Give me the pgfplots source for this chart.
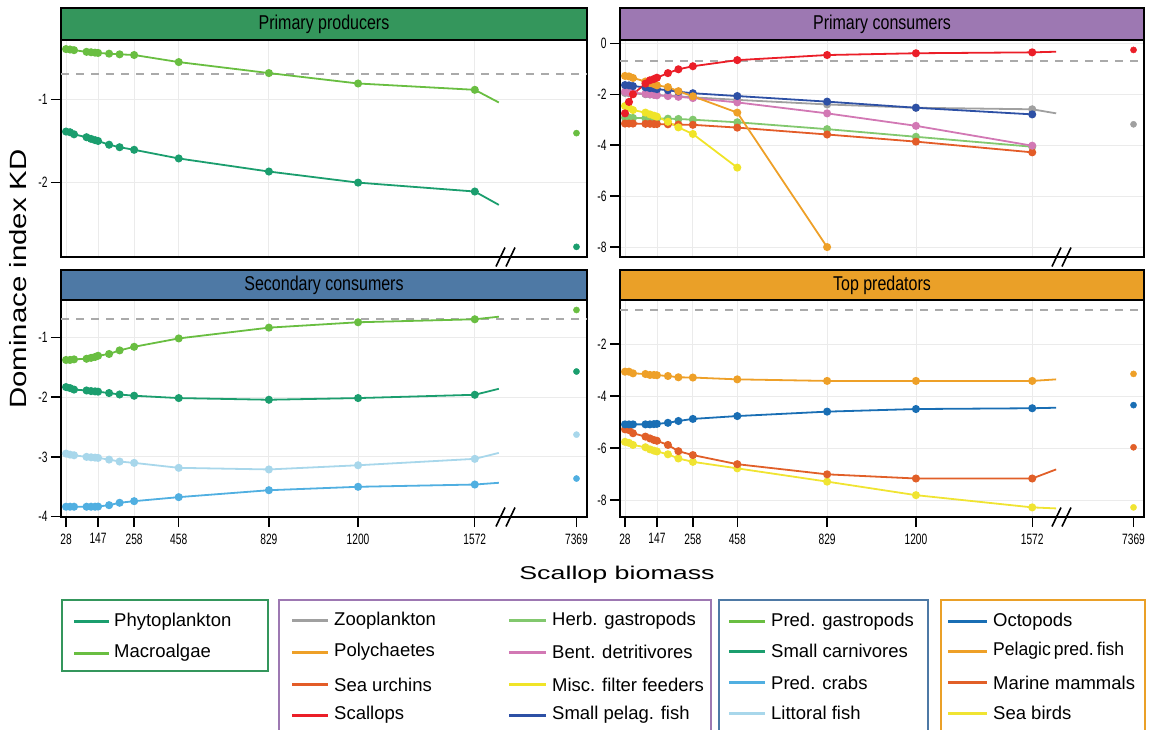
\documentclass[border=0pt]{standalone}
\usepackage{pgfplots}
\pgfplotsset{compat=1.18}
\usepackage{fontspec}
\setmainfont{Liberation Sans}
\newfontfamily\narrow[FakeStretch=0.68]{Liberation Sans}
\newfontfamily\stripf[FakeStretch=0.8]{Liberation Sans}
\newfontfamily\ylabf[FakeStretch=1.25]{Liberation Sans}
\newfontfamily\xlabf[FakeStretch=1.45]{Liberation Sans}
\newfontfamily\tightf[FakeStretch=0.95]{Liberation Sans}

\definecolor{stripPP}{RGB}{52,150,92}
\definecolor{stripPC}{RGB}{157,120,178}
\definecolor{stripSC}{RGB}{78,121,165}
\definecolor{stripTP}{RGB}{234,160,40}
\definecolor{cPhyto}{RGB}{27,158,110}
\definecolor{cMacro}{RGB}{105,190,65}
\definecolor{cZoo}{RGB}{160,160,160}
\definecolor{cPoly}{RGB}{238,160,40}
\definecolor{cUrch}{RGB}{227,92,40}
\definecolor{cScal}{RGB}{235,30,40}
\definecolor{cHerb}{RGB}{130,200,110}
\definecolor{cBent}{RGB}{210,120,180}
\definecolor{cMisc}{RGB}{240,228,40}
\definecolor{cSpel}{RGB}{45,80,165}
\definecolor{cCrab}{RGB}{80,175,225}
\definecolor{cLitt}{RGB}{168,215,235}
\definecolor{cOcto}{RGB}{25,110,180}
\definecolor{cPelf}{RGB}{238,160,40}
\definecolor{cMamm}{RGB}{225,95,40}
\definecolor{cBird}{RGB}{240,228,50}

\pgfplotsset{
  panel/.style={scale only axis, height=217pt, xmin=-5, xmax=520,
    axis line style={line width=1.8pt, black},
    grid=major, major grid style={gray!16, line width=0.8pt},
    tick align=outside, major tick length=10pt,
    tick style={line width=1.4pt, black},
    xtick={0,32,68,112.5,202.5,291.5,408},
    xtick pos=left, ytick pos=left,
    tick label style={font=\narrow\fontsize{15}{16}\selectfont},
    xticklabel style={yshift=-3pt},
    /pgf/number format/assume math mode=true,
    clip=false},
  toppanel/.style={xticklabels={}, xtick style={draw=none}},
  botpanel/.style={xticklabels={28,147,258,458,829,1200,1572},
    extra x ticks={509.5}, extra x tick labels={7369},
    extra x tick style={grid=none}},
  ser/.style={line width=1.8pt, mark=*, mark size=3.1pt, mark options={solid}},
  endl/.style={mark indices={1,2,3,4,5,6,7,8,9,10,11,12,13,14}},
  iso/.style={only marks, mark=*, mark size=3.1pt},
  refl/.style={color={rgb,255:red,170;green,170;blue,170}, line width=1.8pt, dash pattern=on 8pt off 7pt}
}

\begin{document}
\begin{tikzpicture}
\useasboundingbox (0,0) rectangle (1151pt,-729pt);

% ---------- strips ----------
\draw[fill=stripPP, line width=1.6pt] (61pt,-8pt) rectangle (587pt,-40pt);
\node at (324pt,-24pt) {\stripf\fontsize{20}{22}\selectfont Primary producers};
\draw[fill=stripPC, line width=1.6pt] (620pt,-8pt) rectangle (1144pt,-40pt);
\node at (882pt,-24pt) {\stripf\fontsize{20}{22}\selectfont Primary consumers};
\draw[fill=stripSC, line width=1.6pt] (61pt,-270pt) rectangle (587pt,-300pt);
\node at (324pt,-285pt) {\stripf\fontsize{20}{22}\selectfont Secondary consumers};
\draw[fill=stripTP, line width=1.6pt] (620pt,-270pt) rectangle (1144pt,-300pt);
\node at (882pt,-285pt) {\stripf\fontsize{20}{22}\selectfont Top predators};

% ---------- Primary producers ----------
\begin{axis}[panel, toppanel, width=526pt, at={(61pt,-40pt)}, anchor=north west,
  ymin=-2.893, ymax=-0.288, ytick={-1,-2}]
\addplot[refl] coordinates {(-5,-0.693) (520,-0.693)};
\addplot[ser, endl, color=cMacro] coordinates {(0,-0.397)(4,-0.402)(8,-0.41)(20.5,-0.43)(25,-0.435)(29,-0.44)(32,-0.443)(43,-0.452)(53.5,-0.46)(68,-0.468)(112.5,-0.553)(202.5,-0.685)(291.5,-0.81)(408,-0.886)(432,-1.038)};
\addplot[ser, endl, color=cPhyto] coordinates {(0,-1.387)(4,-1.395)(8,-1.42)(20.5,-1.455)(25,-1.475)(29,-1.49)(32,-1.5)(43,-1.545)(53.5,-1.575)(68,-1.606)(112.5,-1.71)(202.5,-1.867)(291.5,-2.0)(408,-2.107)(432,-2.267)};
\addplot[iso, color=cMacro] coordinates {(509.5,-1.406)};
\addplot[iso, color=cPhyto] coordinates {(509.5,-2.771)};
\end{axis}

% ---------- Primary consumers ----------
\begin{axis}[panel, toppanel, width=524pt, at={(620pt,-40pt)}, anchor=north west,
  ymin=-8.39, ymax=0.13, ytick={0,-2,-4,-6,-8}]
\addplot[refl] coordinates {(-5,-0.693) (520,-0.693)};
\addplot[ser, endl, color=cZoo] coordinates {(0,-1.95)(4,-1.96)(8,-1.97)(20.5,-2.0)(25,-2.01)(29,-2.02)(32,-2.03)(43,-2.06)(53.5,-2.08)(68,-2.12)(112.5,-2.22)(202.5,-2.4)(291.5,-2.53)(408,-2.59)(432,-2.75)};
\addplot[ser, color=cHerb] coordinates {(0,-2.92)(4,-2.92)(8,-2.93)(20.5,-2.94)(25,-2.95)(29,-2.95)(32,-2.95)(43,-2.96)(53.5,-2.97)(68,-3.0)(112.5,-3.1)(202.5,-3.37)(291.5,-3.67)(408,-4.06)};
\addplot[ser, color=cUrch] coordinates {(0,-3.15)(4,-3.15)(8,-3.15)(20.5,-3.16)(25,-3.16)(29,-3.17)(32,-3.17)(43,-3.18)(53.5,-3.19)(68,-3.2)(112.5,-3.31)(202.5,-3.58)(291.5,-3.86)(408,-4.28)};
\addplot[ser, color=cMisc] coordinates {(0,-2.46)(4,-2.53)(8,-2.62)(20.5,-2.72)(25,-2.79)(29,-2.84)(32,-2.88)(43,-3.08)(53.5,-3.3)(68,-3.56)(112.5,-4.88)};
\addplot[ser, color=cBent] coordinates {(0,-1.9)(4,-1.92)(8,-1.94)(20.5,-1.98)(25,-2.0)(29,-2.02)(32,-2.04)(43,-2.07)(53.5,-2.1)(68,-2.15)(112.5,-2.32)(202.5,-2.75)(291.5,-3.24)(408,-4.02)};
\addplot[ser, color=cSpel] coordinates {(0,-1.64)(4,-1.65)(8,-1.68)(20.5,-1.73)(25,-1.76)(29,-1.77)(32,-1.8)(43,-1.84)(53.5,-1.9)(68,-1.96)(112.5,-2.07)(202.5,-2.29)(291.5,-2.53)(408,-2.79)};
\addplot[ser, color=cPoly] coordinates {(0,-1.28)(4,-1.3)(8,-1.36)(20.5,-1.5)(25,-1.56)(29,-1.6)(32,-1.65)(43,-1.72)(53.5,-1.88)(68,-2.08)(112.5,-2.72)(202.5,-8.0)};
\addplot[ser, endl, color=cScal] coordinates {(0,-2.75)(4,-2.3)(8,-2.0)(20.5,-1.58)(25,-1.45)(29,-1.4)(32,-1.35)(43,-1.17)(53.5,-1.02)(68,-0.9)(112.5,-0.66)(202.5,-0.46)(291.5,-0.39)(408,-0.355)(432,-0.33)};
\addplot[iso, color=cScal] coordinates {(509.5,-0.26)};
\addplot[iso, color=cZoo] coordinates {(509.5,-3.18)};
\end{axis}

% ---------- Secondary consumers ----------
\begin{axis}[panel, botpanel, width=526pt, at={(61pt,-300pt)}, anchor=north west,
  ymin=-4.005, ymax=-0.378, ytick={-1,-2,-3,-4}]
\addplot[refl] coordinates {(-5,-0.693) (520,-0.693)};
\addplot[ser, endl, color=cCrab] coordinates {(0,-3.833)(4,-3.833)(8,-3.833)(20.5,-3.833)(25,-3.833)(29,-3.833)(32,-3.83)(43,-3.807)(53.5,-3.767)(68,-3.74)(112.5,-3.673)(202.5,-3.557)(291.5,-3.5)(408,-3.462)(432,-3.433)};
\addplot[ser, endl, color=cLitt] coordinates {(0,-2.945)(4,-2.962)(8,-2.973)(20.5,-3.0)(25,-3.007)(29,-3.012)(32,-3.017)(43,-3.045)(53.5,-3.078)(68,-3.1)(112.5,-3.183)(202.5,-3.21)(291.5,-3.14)(408,-3.033)(432,-2.933)};
\addplot[ser, endl, color=cPhyto] coordinates {(0,-1.833)(4,-1.85)(8,-1.875)(20.5,-1.89)(25,-1.9)(29,-1.905)(32,-1.91)(43,-1.933)(53.5,-1.957)(68,-1.978)(112.5,-2.017)(202.5,-2.045)(291.5,-2.017)(408,-1.962)(432,-1.862)};
\addplot[ser, endl, color=cMacro] coordinates {(0,-1.38)(4,-1.38)(8,-1.37)(20.5,-1.36)(25,-1.345)(29,-1.33)(32,-1.31)(43,-1.28)(53.5,-1.22)(68,-1.16)(112.5,-1.02)(202.5,-0.84)(291.5,-0.75)(408,-0.70)(432,-0.657)};
\addplot[iso, color=cMacro] coordinates {(509.5,-0.545)};
\addplot[iso, color=cPhyto] coordinates {(509.5,-1.573)};
\addplot[iso, color=cLitt] coordinates {(509.5,-2.628)};
\addplot[iso, color=cCrab] coordinates {(509.5,-3.362)};
\end{axis}

% ---------- Top predators ----------
\begin{axis}[panel, botpanel, width=524pt, at={(620pt,-300pt)}, anchor=north west,
  ymin=-8.65, ymax=-0.31, ytick={-2,-4,-6,-8}]
\addplot[refl] coordinates {(-5,-0.693) (520,-0.693)};
\addplot[ser, endl, color=cBird] coordinates {(0,-5.76)(4,-5.8)(8,-5.88)(20.5,-5.97)(25,-6.05)(29,-6.1)(32,-6.13)(43,-6.24)(53.5,-6.4)(68,-6.53)(112.5,-6.78)(202.5,-7.29)(291.5,-7.81)(408,-8.28)(432,-8.32)};
\addplot[ser, endl, color=cMamm] coordinates {(0,-5.28)(4,-5.31)(8,-5.43)(20.5,-5.56)(25,-5.63)(29,-5.69)(32,-5.72)(43,-5.88)(53.5,-6.12)(68,-6.27)(112.5,-6.62)(202.5,-7.01)(291.5,-7.17)(408,-7.17)(432,-6.82)};
\addplot[ser, endl, color=cOcto] coordinates {(0,-5.09)(4,-5.09)(8,-5.09)(20.5,-5.09)(25,-5.09)(29,-5.08)(32,-5.07)(43,-5.03)(53.5,-4.96)(68,-4.88)(112.5,-4.77)(202.5,-4.6)(291.5,-4.5)(408,-4.47)(432,-4.45)};
\addplot[ser, endl, color=cPelf] coordinates {(0,-3.065)(4,-3.065)(8,-3.128)(20.5,-3.154)(25,-3.19)(29,-3.19)(32,-3.2)(43,-3.23)(53.5,-3.28)(68,-3.29)(112.5,-3.36)(202.5,-3.42)(291.5,-3.42)(408,-3.42)(432,-3.36)};
\addplot[iso, color=cPelf] coordinates {(509.5,-3.15)};
\addplot[iso, color=cOcto] coordinates {(509.5,-4.35)};
\addplot[iso, color=cMamm] coordinates {(509.5,-5.97)};
\addplot[iso, color=cBird] coordinates {(509.5,-8.28)};
\end{axis}

% ---------- axis breaks ----------
\foreach \bx/\by in {506/257, 1062/257, 506/517, 1062/517}{
  \draw[line width=1.6pt] (\bx pt-10pt,-\by pt-9.5pt) -- (\bx pt-1pt,-\by pt+9.5pt);
  \draw[line width=1.6pt] (\bx pt+0pt,-\by pt-9.5pt) -- (\bx pt+9pt,-\by pt+9.5pt);
}

% ---------- axis titles ----------
\node[rotate=90] at (18pt,-279pt) {\ylabf\fontsize{23.5}{25}\selectfont Dominace index KD};
\node at (617pt,-575pt) {\xlabf\fontsize{18.5}{20}\selectfont Scallop biomass};

% ---------- legends ----------
\def\lfont{\fontsize{18.5}{20}\selectfont}
\draw[stripPP, line width=1.5pt] (62pt,-600pt) rectangle (268pt,-671pt);
\draw[stripPC, line width=1.5pt] (279pt,-600pt) rectangle (711pt,-740pt);
\draw[stripSC, line width=1.5pt] (719pt,-600pt) rectangle (928pt,-740pt);
\draw[stripTP, line width=1.5pt] (941pt,-600pt) rectangle (1145pt,-740pt);

\foreach \c/\t/\y in {cPhyto/Phytoplankton/621.5, cMacro/Macroalgae/653}{
  \draw[\c, line width=3pt] (74pt,-\y pt) -- (109pt,-\y pt);
  \node[anchor=west, inner sep=0pt] at (114pt,-\y pt) {\lfont\t};
}
\foreach \c/\t/\y in {cZoo/Zooplankton/620.5, cPoly/Polychaetes/652, cUrch/Sea urchins/684.5, cScal/Scallops/715}{
  \draw[\c, line width=3pt] (292pt,-\y pt) -- (328pt,-\y pt);
  \node[anchor=west, inner sep=0pt] at (334pt,-\y pt) {\lfont\t};
}
\foreach \c/\t/\y in {cHerb/Herb. gastropods/620.5, cBent/Bent. detritivores/652, cMisc/Misc. filter feeders/684.5, cSpel/Small pelag. fish/715}{
  \draw[\c, line width=3pt] (509pt,-\y pt) -- (546pt,-\y pt);
  \node[anchor=west, inner sep=0pt] at (552pt,-\y pt) {\lfont\t};
}
\foreach \c/\t/\y in {cMacro/Pred. gastropods/621.5, cPhyto/Small carnivores/651, cCrab/Pred. crabs/682.5, cLitt/Littoral fish/713}{
  \draw[\c, line width=3pt] (729pt,-\y pt) -- (765pt,-\y pt);
  \node[anchor=west, inner sep=0pt] at (771pt,-\y pt) {\lfont\t};
}
\foreach \c/\t/\y in {cOcto/Octopods/621.5, cMamm/Marine mammals/682.5, cBird/Sea birds/713}{
  \draw[\c, line width=3pt] (948pt,-\y pt) -- (987pt,-\y pt);
  \node[anchor=west, inner sep=0pt] at (993pt,-\y pt) {\lfont\t};
}
\draw[cPelf, line width=3pt] (948pt,-651pt) -- (987pt,-651pt);
\node[anchor=west, inner sep=0pt] at (993pt,-651pt) {\lfont\tightf Pelagic\hspace{3pt}pred.\hspace{3pt}fish};
\end{tikzpicture}
\end{document}
